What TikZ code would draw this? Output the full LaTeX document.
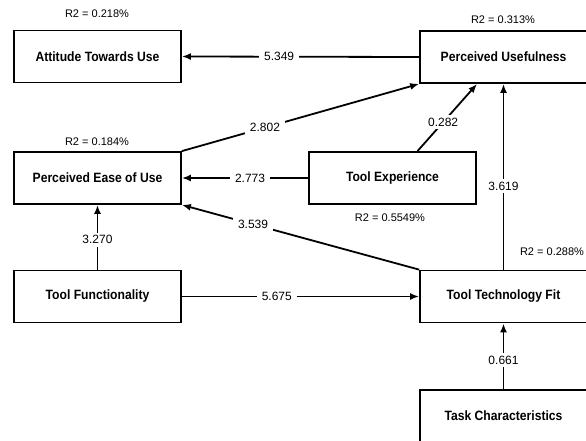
\documentclass[tikz,border=0pt]{standalone}
\usepackage{fontspec}
\setmainfont{Liberation Sans}
\newfontfamily\boxfont[FakeStretch=0.9]{Liberation Sans}
\usepackage{tikz}
\usetikzlibrary{arrows.meta}
\usetikzlibrary{calc}
\tikzstyle{facteur}=[
        draw,
        rectangle,
        line width=1.8pt,
        minimum width=167pt,
        minimum height=52pt,
        inner sep=0pt,
        font=\boxfont\bfseries\fontsize{13.5}{16}\selectfont
]
\tikzstyle{chemin}=[->,>={Latex[length=9pt,width=7pt]},line width=1.8pt]
\tikzstyle{poids}=[fill=white,inner xsep=5pt,inner ysep=3pt,font=\fontsize{12}{14}\selectfont]
\tikzstyle{rdeux}=[inner sep=0pt,font=\fontsize{11}{13}\selectfont]

\begin{document}
\begin{tikzpicture}[x=1pt,y=-1pt]
\useasboundingbox (0,0) rectangle (586,441);
\clip (0,0) rectangle (586,441);
\node[facteur] (att) at (97.5,56.5) {Attitude Towards Use};
\node[facteur] (pu) at (503.5,57) {Perceived Usefulness};
\node[facteur] (peou) at (97.5,178) {Perceived Ease of Use};
\node[facteur] (te) at (392.5,178) {Tool Experience};
\node[facteur] (tf) at (97.5,296.5) {Tool Functionality};
\node[facteur] (ttf) at (503.5,296.5) {Tool Technology Fit};
\node[facteur] (tc) at (503.5,416) {Task Characteristics};
%R2
\node[rdeux] (r2att) at (97,14) {R2 = 0.218\%};
\node[rdeux] (r2pu) at (503,20) {R2 = 0.313\%};
\node[rdeux] (r2peou) at (97,142) {R2 = 0.184\%};
\node[rdeux] (r2te) at (390,218) {R2 = 0.5549\%};
\node[rdeux] (r2ttf) at (552,252) {R2 = 0.288\%};
%fleches
\draw[chemin] (pu.west) -- (att.east) node[poids,pos=0.59]{5.349};
\draw[chemin] (peou.north east) -- (pu.south west) node[poids,pos=0.35]{2.802};
\draw[chemin] ($(te.north)+(25,0)$) -- ($(pu.south west)+(58,0)$) node[poids,pos=0.43]{0.282};
\draw[chemin] (te.west) -- (peou.east) node[poids,pos=0.46]{2.773};
\draw[chemin] (ttf.north west) -- (peou.south east) node[poids,pos=0.7]{3.539};
\draw[chemin] (ttf.north) -- (pu.south) node[poids,pos=0.45]{3.619};
\draw[chemin] (tf.north) -- (peou.south) node[poids,pos=0.46]{3.270};
\draw[chemin] (tf.east) -- (ttf.west) node[poids,pos=0.4]{5.675};
\draw[chemin] (tc.north) -- (ttf.south) node[poids,pos=0.44]{0.661};
\end{tikzpicture}
\end{document}
